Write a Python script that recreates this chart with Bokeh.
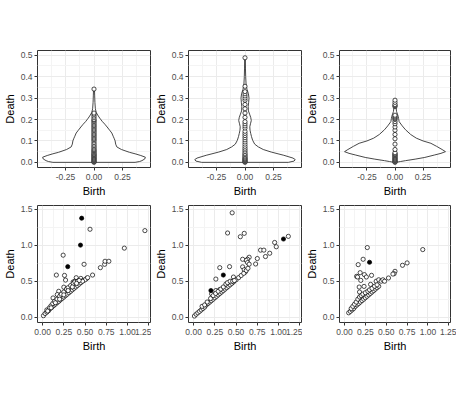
from bokeh.plotting import figure
from bokeh.layouts import gridplot
from bokeh.models import FixedTicker, Range1d
from bokeh.embed import file_html
from bokeh.resources import INLINE

FONT = "Liberation Sans"

# ---------------- tick definitions ----------------
top_xticks = [-0.25, 0.0, 0.25]
top_xminor = [-0.375, -0.125, 0.125, 0.375]
top_xlabels = ["-0.25", "0.00", "0.25"]
top_yticks = [0.0, 0.1, 0.2, 0.3, 0.4, 0.5]
top_yminor = [0.05, 0.15, 0.25, 0.35, 0.45]
top_ylabels = ["0.0", "0.1", "0.2", "0.3", "0.4", "0.5"]

bot_xticks = [0.0, 0.25, 0.5, 0.75, 1.0, 1.25]
bot_xminor = [0.125, 0.375, 0.625, 0.875, 1.125]
bot_xlabels = ["0.00", "0.25", "0.50", "0.75", "1.00", "1.25"]
bot_yticks = [0.0, 0.5, 1.0, 1.5]
bot_yminor = [0.25, 0.75, 1.25]
bot_ylabels = ["0.0", "0.5", "1.0", "1.5"]

# ---------------- top row: violins (Death of H0 features, Birth = 0) ----------------
top_birth = 0.0
v1_y = [0.000, 0.004, 0.008, 0.016, 0.024, 0.032, 0.040, 0.047, 0.060, 0.072, 0.085, 0.100,
        0.110, 0.122, 0.137, 0.150, 0.165, 0.178, 0.190, 0.203, 0.216, 0.232, 0.250, 0.280,
        0.310, 0.344]
v1_w = [0.36, 0.40, 0.42, 0.445, 0.45, 0.41, 0.36, 0.31, 0.24, 0.20, 0.19, 0.185,
        0.178, 0.168, 0.156, 0.137, 0.115, 0.095, 0.074, 0.055, 0.038, 0.020, 0.012, 0.008,
        0.006, 0.004]
v1_pts = [0.000, 0.004, 0.008, 0.012, 0.016, 0.020, 0.024, 0.028, 0.032, 0.036, 0.040, 0.045,
          0.050, 0.055, 0.060, 0.066, 0.072, 0.078, 0.085, 0.092, 0.100, 0.106, 0.112, 0.118,
          0.124, 0.130, 0.136, 0.142, 0.148, 0.154, 0.160, 0.166, 0.172, 0.178, 0.184, 0.190,
          0.196, 0.200, 0.208, 0.216, 0.224, 0.230, 0.342]

v2_y = [0.000, 0.006, 0.013, 0.020, 0.033, 0.048, 0.060, 0.072, 0.085, 0.103, 0.120, 0.135,
        0.150, 0.166, 0.180, 0.195, 0.210, 0.225, 0.240, 0.260, 0.280, 0.300, 0.320, 0.340,
        0.360, 0.400, 0.440, 0.488]
v2_w = [0.38, 0.43, 0.44, 0.42, 0.34, 0.23, 0.16, 0.117, 0.085, 0.067, 0.057, 0.050,
        0.044, 0.042, 0.048, 0.055, 0.050, 0.040, 0.030, 0.028, 0.032, 0.035, 0.030, 0.018,
        0.010, 0.006, 0.004, 0.003]
v2_pts = [0.000, 0.004, 0.008, 0.012, 0.016, 0.020, 0.025, 0.030, 0.036, 0.042, 0.050, 0.058,
          0.066, 0.075, 0.085, 0.095, 0.105, 0.115, 0.125, 0.135, 0.145, 0.160, 0.170, 0.180,
          0.190, 0.210, 0.230, 0.250, 0.270, 0.290, 0.300, 0.310, 0.320, 0.330, 0.355, 0.488]

v3_y = [0.000, 0.004, 0.008, 0.015, 0.023, 0.034, 0.042, 0.050, 0.060, 0.075, 0.089, 0.100,
        0.113, 0.130, 0.152, 0.170, 0.190, 0.205, 0.214, 0.225, 0.237, 0.255, 0.275, 0.296]
v3_w = [0.01, 0.05, 0.094, 0.18, 0.266, 0.35, 0.41, 0.45, 0.42, 0.37, 0.32, 0.25,
        0.19, 0.14, 0.094, 0.065, 0.037, 0.032, 0.029, 0.022, 0.014, 0.010, 0.008, 0.005]
v3_pts = [0.000, 0.004, 0.008, 0.012, 0.016, 0.020, 0.024, 0.028, 0.032, 0.036, 0.040, 0.045,
          0.060, 0.085, 0.110, 0.130, 0.150, 0.165, 0.180, 0.190, 0.200, 0.205, 0.210, 0.215,
          0.220, 0.260, 0.265, 0.270, 0.280, 0.290]

# ---------------- bottom row: persistence diagrams (Birth, Death) ----------------
d1_open_b = [0.558, 1.204, 0.242, 0.962, 0.488, 0.162, 0.258, 0.270, 0.396, 0.450, 0.519, 0.588,
             0.680, 0.730, 0.735, 0.780, 0.250, 0.190, 0.173, 0.123, 0.135,
             0.36, 0.38, 0.40, 0.42, 0.44, 0.46, 0.48, 0.50, 0.53,
             0.01, 0.03, 0.05, 0.07, 0.09, 0.11, 0.13, 0.15, 0.17, 0.19, 0.21, 0.23, 0.25, 0.27,
             0.29, 0.31, 0.33, 0.35, 0.37, 0.39, 0.41, 0.43, 0.45, 0.47,
             0.05, 0.08, 0.10, 0.12, 0.14, 0.17, 0.20, 0.22, 0.25, 0.28, 0.30, 0.33, 0.36, 0.38,
             0.41, 0.43, 0.06, 0.10, 0.15, 0.20, 0.25, 0.30, 0.35, 0.40]
d1_open_d = [1.224, 1.205, 0.863, 0.961, 0.736, 0.586, 0.581, 0.516, 0.549, 0.539, 0.539, 0.586,
             0.689, 0.736, 0.778, 0.778, 0.417, 0.360, 0.314, 0.267, 0.188,
             0.49, 0.50, 0.49, 0.50, 0.48, 0.50, 0.51, 0.52, 0.55,
             0.02, 0.05, 0.07, 0.09, 0.12, 0.14, 0.16, 0.18, 0.20, 0.22, 0.24, 0.26, 0.28, 0.30,
             0.32, 0.34, 0.36, 0.38, 0.40, 0.42, 0.44, 0.46, 0.48, 0.50,
             0.10, 0.13, 0.16, 0.19, 0.22, 0.25, 0.29, 0.32, 0.35, 0.39, 0.41, 0.44, 0.47, 0.49,
             0.50, 0.51, 0.085, 0.13, 0.20, 0.25, 0.31, 0.37, 0.42, 0.47]
d1_fill_b = [0.460, 0.446, 0.296]
d1_fill_d = [1.378, 1.003, 0.703]

d2_open_b = [0.454, 0.400, 0.550, 0.596, 1.115, 0.954, 0.973, 0.788, 0.827, 0.846, 0.896, 0.750,
             0.730, 0.654, 0.635, 0.620, 0.577, 0.635, 0.654, 0.308, 0.423, 0.469, 0.262, 0.577,
             0.608, 0.596, 0.212, 0.262, 0.308,
             0.01, 0.03, 0.05, 0.07, 0.09, 0.11, 0.13, 0.15, 0.17, 0.19, 0.21, 0.23, 0.25, 0.27,
             0.29, 0.31, 0.33, 0.35, 0.37, 0.39, 0.41, 0.43, 0.45, 0.47, 0.50, 0.53, 0.56, 0.59,
             0.62, 0.64,
             0.10, 0.13, 0.16, 0.20, 0.23, 0.26, 0.29, 0.32, 0.35, 0.38, 0.40, 0.43, 0.46, 0.48]
d2_open_d = [1.453, 1.172, 1.120, 1.167, 1.125, 1.040, 0.980, 0.933, 0.933, 0.844, 0.890, 0.816,
             0.740, 0.834, 0.806, 0.790, 0.806, 0.760, 0.737, 0.689, 0.703, 0.558, 0.530, 0.700,
             0.628, 0.660, 0.323, 0.370, 0.384,
             0.015, 0.04, 0.06, 0.08, 0.10, 0.12, 0.14, 0.17, 0.19, 0.21, 0.23, 0.25, 0.27, 0.29,
             0.31, 0.33, 0.35, 0.37, 0.39, 0.41, 0.43, 0.45, 0.47, 0.49, 0.52, 0.55, 0.58, 0.61,
             0.65, 0.68,
             0.15, 0.17, 0.21, 0.26, 0.30, 0.33, 0.36, 0.39, 0.42, 0.46, 0.48, 0.50, 0.50, 0.51]
d2_fill_b = [1.058, 0.350, 0.204]
d2_fill_d = [1.088, 0.586, 0.370]

d3_open_b = [0.273, 0.9375, 0.223, 0.164, 0.750, 0.695, 0.324, 0.145, 0.1875, 0.238, 0.262,
             0.195, 0.234, 0.3125, 0.527, 0.605, 0.594, 0.580, 0.176, 0.180, 0.156,
             0.38, 0.41, 0.44, 0.46, 0.48,
             0.05, 0.07, 0.09, 0.11, 0.13, 0.15, 0.17, 0.19, 0.21, 0.23, 0.25, 0.27, 0.29, 0.31,
             0.33, 0.35, 0.37, 0.39, 0.41,
             0.08, 0.10, 0.12, 0.14, 0.16, 0.18, 0.20, 0.22, 0.25, 0.28, 0.30, 0.33, 0.36, 0.39]
d3_open_d = [0.969, 0.941, 0.806, 0.731, 0.755, 0.722, 0.582, 0.568, 0.619, 0.592, 0.559,
             0.512, 0.428, 0.456, 0.545, 0.638, 0.605, 0.600, 0.419, 0.350, 0.559,
             0.50, 0.52, 0.50, 0.52, 0.50,
             0.06, 0.08, 0.10, 0.12, 0.15, 0.17, 0.19, 0.21, 0.23, 0.25, 0.27, 0.29, 0.31, 0.33,
             0.35, 0.37, 0.39, 0.41, 0.43,
             0.12, 0.15, 0.18, 0.21, 0.25, 0.28, 0.30, 0.32, 0.34, 0.36, 0.38, 0.40, 0.43, 0.45]
d3_fill_b = [0.300]
d3_fill_d = [0.764]

# ---------------- layout constants ----------------
FH = 117
COL_FW = [113, 113, 111]
TOP_X = (-0.495, 0.495)
TOP_Y = (-0.024, 0.522)
BOT_X = (-0.06, 1.27)
BOT_Y = (-0.075, 1.555)
COL_BORDERS = [(33, 1), (37, 1), (35, 6)]
ROW_BORDERS = [(50, 33), (5, 33)]
MSIZE = 4.2


def style_axis(ax, ticks, minor, labels, label_standoff):
    ax.ticker = FixedTicker(ticks=ticks, minor_ticks=minor)
    ax.major_label_overrides = {t: l for t, l in zip(ticks, labels)}
    ax.axis_line_color = None
    ax.major_tick_line_color = "#333333"
    ax.major_tick_out = 3
    ax.major_tick_in = 0
    ax.minor_tick_line_color = None
    ax.major_label_text_font = FONT
    ax.major_label_text_font_size = "8.5px"
    ax.major_label_text_color = "#4D4D4D"
    ax.major_label_standoff = label_standoff
    ax.axis_label_text_font = FONT
    ax.axis_label_text_font_size = "11px"
    ax.axis_label_text_font_style = "normal"
    ax.axis_label_text_color = "black"
    ax.axis_label_standoff = 2


def make_fig(row, col, xr, yr, xt, yt):
    lb, rb = COL_BORDERS[col]
    tb, bb = ROW_BORDERS[row]
    p = figure(frame_width=COL_FW[col], frame_height=FH,
               x_range=Range1d(*xr), y_range=Range1d(*yr),
               output_backend="svg", toolbar_location=None,
               min_border_left=lb, min_border_right=rb,
               min_border_top=tb, min_border_bottom=bb,
               x_axis_label="Birth", y_axis_label="Death")
    style_axis(p.xaxis[0], *xt, 2)
    style_axis(p.yaxis[0], *yt, 1)
    p.xgrid.ticker = p.xaxis[0].ticker
    p.ygrid.ticker = p.yaxis[0].ticker
    p.grid.grid_line_color = "#EBEBEB"
    p.grid.grid_line_width = 1
    p.grid.minor_grid_line_color = "#F4F4F4"
    p.grid.minor_grid_line_width = 1
    p.outline_line_color = "#333333"
    p.outline_line_width = 1
    p.background_fill_color = "white"
    p.border_fill_color = "white"
    return p


top_specs = [(v1_y, v1_w, v1_pts), (v2_y, v2_w, v2_pts), (v3_y, v3_w, v3_pts)]
bot_specs = [(d1_open_b, d1_open_d, d1_fill_b, d1_fill_d),
             (d2_open_b, d2_open_d, d2_fill_b, d2_fill_d),
             (d3_open_b, d3_open_d, d3_fill_b, d3_fill_d)]

top_row = []
for c, (vy, vw, pts) in enumerate(top_specs):
    p = make_fig(0, c, TOP_X, TOP_Y,
                 (top_xticks, top_xminor, top_xlabels),
                 (top_yticks, top_yminor, top_ylabels))
    xs = [top_birth + w for w in vw] + [top_birth - w for w in reversed(vw)]
    ys = list(vy) + list(reversed(vy))
    p.patch(xs, ys, fill_color="white", line_color="#333333", line_width=0.9)
    p.scatter([top_birth] * len(pts), pts, marker="circle", size=MSIZE,
              fill_color="white", line_color="black", line_width=0.7)
    top_row.append(p)

bot_row = []
for c, (ob, od, fb, fd) in enumerate(bot_specs):
    p = make_fig(1, c, BOT_X, BOT_Y,
                 (bot_xticks, bot_xminor, bot_xlabels),
                 (bot_yticks, bot_yminor, bot_ylabels))
    p.scatter(ob, od, marker="circle", size=MSIZE,
              fill_color="white", line_color="black", line_width=0.7)
    p.scatter(fb, fd, marker="circle", size=MSIZE,
              fill_color="black", line_color="black", line_width=0.7)
    bot_row.append(p)

grid = gridplot([top_row, bot_row], toolbar_location=None)

open("out.html", "w").write(file_html(grid, INLINE))
